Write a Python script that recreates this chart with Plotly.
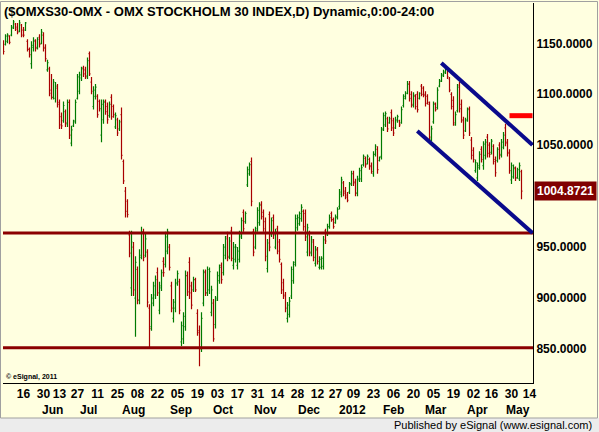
import plotly.graph_objects as go

# OMX Stockholm 30, daily bars (trading-day index), May 2011 - May 2012
bar_open = [1150, 1149, 1152, 1157, 1158, 1165, 1169, 1166, 1162, 1168, 1163, 1163, 1152, 1144, 1130, 1146, 1152, 1146, 1156, 1150,
            1158, 1146, 1124, 1125, 1104, 1097, 1096, 1106, 1092, 1078, 1074, 1083, 1071, 1092, 1052, 1069, 1073, 1096, 1103, 1116,
            1126, 1124, 1118, 1140, 1112, 1088, 1098, 1098, 1093, 1060, 1075, 1093, 1088, 1079, 1097, 1088, 1068, 1075, 1066, 1080,
            1034, 1005, 995, 962, 910, 950, 900, 928, 898, 942, 965, 942, 945, 890, 872, 895, 903, 925, 888, 910,
            936, 933, 946, 950, 912, 880, 890, 914, 916, 857, 860, 872, 922, 935, 912, 908, 918, 885, 868, 852,
            895, 926, 905, 908, 886, 895, 874, 900, 917, 932, 925, 942, 960, 941, 966, 932, 938, 932, 938, 960,
            984, 975, 1011, 1022, 1034, 965, 950, 968, 974, 992, 984, 975, 929, 982, 962, 979, 950, 968, 955, 933,
            915, 903, 880, 884, 902, 917, 935, 969, 973, 978, 985, 983, 945, 962, 944, 955, 934, 947, 930, 930,
            931, 966, 962, 970, 983, 977, 974, 979, 990, 1002, 1013, 1005, 1001, 1004, 1012, 1022, 1014, 1003, 1016, 1017,
            1031, 1037, 1032, 1036, 1030, 1022, 1041, 1046, 1035, 1039, 1066, 1070, 1076, 1072, 1082, 1074, 1067, 1074, 1074, 1072,
            1089, 1096, 1101, 1110, 1100, 1089, 1098, 1100, 1096, 1108, 1106, 1100, 1098, 1090, 1056, 1073, 1091, 1087, 1108, 1113,
            1118, 1121, 1125, 1115, 1100, 1094, 1070, 1084, 1109, 1090, 1074, 1064, 1075, 1086, 1055, 1045, 1025, 1018, 1028, 1046,
            1030, 1040, 1058, 1050, 1043, 1049, 1036, 1035, 1050, 1041, 1048, 1067, 1053, 1043, 1016, 1019, 1027, 1018, 1017, 1024]
bar_high = [1153, 1159, 1160, 1158, 1168, 1173, 1170, 1170, 1173, 1169, 1166, 1171, 1154, 1146, 1152, 1156, 1154, 1156, 1159, 1164,
            1161, 1149, 1134, 1127, 1120, 1115, 1112, 1110, 1095, 1082, 1093, 1085, 1095, 1095, 1069, 1075, 1095, 1120, 1122, 1127,
            1128, 1127, 1136, 1142, 1117, 1108, 1110, 1100, 1095, 1095, 1095, 1095, 1092, 1093, 1100, 1090, 1082, 1077, 1075, 1087,
            1036, 1009, 997, 966, 966, 955, 941, 931, 948, 970, 968, 963, 948, 894, 904, 916, 922, 930, 916, 928,
            940, 965, 968, 953, 916, 899, 919, 927, 919, 877, 886, 927, 926, 940, 916, 921, 920, 889, 873, 886,
            928, 928, 931, 930, 912, 899, 902, 926, 933, 935, 953, 961, 965, 960, 970, 955, 953, 950, 966, 979,
            987, 985, 1029, 1033, 1038, 968, 970, 989, 994, 995, 987, 979, 958, 985, 979, 982, 968, 971, 958, 935,
            919, 906, 896, 901, 931, 936, 982, 982, 985, 992, 987, 987, 973, 966, 961, 958, 951, 950, 941, 941,
            961, 968, 973, 982, 985, 979, 982, 989, 1007, 1019, 1015, 1009, 1004, 1014, 1025, 1025, 1017, 1020, 1028, 1031,
            1041, 1039, 1041, 1038, 1033, 1044, 1051, 1049, 1039, 1068, 1082, 1083, 1078, 1078, 1085, 1077, 1078, 1080, 1075, 1088,
            1100, 1103, 1113, 1113, 1103, 1102, 1100, 1103, 1102, 1110, 1108, 1103, 1100, 1093, 1069, 1093, 1092, 1107, 1115, 1121,
            1124, 1128, 1126, 1117, 1102, 1098, 1083, 1110, 1112, 1095, 1078, 1077, 1087, 1088, 1058, 1048, 1036, 1033, 1044, 1049,
            1054, 1056, 1061, 1053, 1056, 1051, 1039, 1048, 1053, 1056, 1063, 1071, 1056, 1046, 1033, 1031, 1029, 1028, 1033, 1026]
bar_low = [1139, 1148, 1150, 1149, 1157, 1164, 1162, 1159, 1161, 1156, 1156, 1162, 1142, 1136, 1125, 1142, 1142, 1144, 1146, 1149,
           1142, 1132, 1122, 1098, 1095, 1095, 1092, 1087, 1066, 1066, 1072, 1068, 1068, 1056, 1049, 1068, 1071, 1095, 1100, 1113,
           1117, 1115, 1115, 1118, 1100, 1085, 1095, 1077, 1083, 1053, 1071, 1080, 1071, 1077, 1075, 1077, 1066, 1059, 1064, 1036,
           1012, 979, 979, 940, 902, 902, 862, 894, 894, 938, 936, 940, 891, 852, 868, 892, 899, 902, 884, 907,
           921, 930, 943, 927, 886, 876, 886, 912, 884, 853, 855, 868, 902, 899, 889, 906, 906, 863, 833, 847,
           892, 902, 902, 904, 882, 857, 870, 897, 914, 914, 922, 938, 936, 938, 936, 928, 935, 928, 935, 958,
           965, 973, 1009, 1020, 990, 941, 948, 965, 971, 977, 965, 936, 925, 946, 960, 958, 948, 943, 935, 904,
           899, 886, 876, 881, 899, 914, 931, 966, 971, 975, 966, 956, 941, 941, 941, 936, 931, 933, 928, 928,
           928, 953, 961, 968, 975, 968, 973, 977, 987, 999, 1000, 997, 994, 1002, 1010, 1010, 1000, 1000, 1014, 1014,
           1029, 1028, 1031, 1026, 1022, 1019, 1039, 1022, 1034, 1036, 1064, 1068, 1063, 1071, 1064, 1059, 1066, 1072, 1068, 1071,
           1087, 1095, 1100, 1093, 1087, 1087, 1085, 1082, 1095, 1098, 1097, 1088, 1090, 1054, 1054, 1071, 1083, 1085, 1107, 1112,
           1117, 1120, 1115, 1102, 1085, 1069, 1069, 1082, 1082, 1072, 1056, 1063, 1073, 1059, 1036, 1033, 1023, 1015, 1026, 1033,
           1026, 1036, 1038, 1038, 1041, 1031, 1019, 1033, 1036, 1038, 1046, 1049, 1039, 1022, 1012, 1017, 1015, 1017, 1015, 997]
bar_close = [1142, 1157, 1158, 1151, 1166, 1171, 1164, 1161, 1170, 1158, 1158, 1170, 1144, 1139, 1148, 1153, 1145, 1154, 1149, 1161,
             1145, 1135, 1131, 1101, 1097, 1112, 1108, 1090, 1070, 1069, 1089, 1072, 1092, 1060, 1065, 1074, 1092, 1117, 1119, 1125,
             1120, 1117, 1133, 1120, 1103, 1104, 1107, 1080, 1086, 1090, 1092, 1083, 1075, 1090, 1078, 1080, 1079, 1062, 1073, 1040,
             1015, 985, 982, 944, 955, 908, 935, 898, 940, 965, 940, 958, 896, 870, 900, 912, 918, 905, 912, 925,
             925, 960, 965, 930, 890, 896, 915, 924, 888, 873, 882, 922, 906, 905, 893, 918, 908, 866, 850, 880,
             925, 905, 928, 926, 908, 860, 898, 922, 930, 918, 950, 958, 940, 956, 939, 950, 950, 946, 962, 976,
             968, 983, 1026, 1031, 995, 945, 966, 986, 991, 980, 968, 941, 954, 950, 976, 962, 965, 946, 938, 908,
             902, 890, 893, 897, 928, 933, 978, 979, 983, 989, 970, 960, 969, 945, 957, 940, 948, 936, 938, 939,
             957, 956, 970, 979, 977, 970, 980, 987, 1004, 1016, 1003, 999, 996, 1012, 1022, 1013, 1003, 1017, 1025, 1028,
             1039, 1031, 1039, 1029, 1024, 1041, 1049, 1026, 1038, 1065, 1079, 1081, 1066, 1076, 1067, 1062, 1075, 1078, 1070, 1085,
             1098, 1101, 1110, 1096, 1090, 1099, 1088, 1085, 1101, 1100, 1099, 1091, 1092, 1058, 1066, 1090, 1085, 1104, 1113, 1119,
             1122, 1126, 1117, 1104, 1088, 1072, 1080, 1107, 1086, 1075, 1060, 1074, 1085, 1062, 1040, 1036, 1033, 1030, 1041, 1036,
             1051, 1053, 1042, 1041, 1054, 1034, 1023, 1046, 1040, 1053, 1060, 1052, 1042, 1025, 1030, 1028, 1018, 1026, 1030, 1004.8721]
bar_index = list(range(len(bar_close)))

# x axis labels (day of month at bar positions) and month names
day_ticks = [10, 20, 28, 37, 47, 57, 67, 77, 87, 97, 107, 117, 127, 137, 147, 157, 166, 175, 185, 195, 205, 215, 225, 235, 244, 254, 263]
day_labels = ["16", "30", "13", "27", "11", "25", "08", "22", "05", "19", "03", "17", "31", "14",
              "28", "12", "27", "09", "23", "06", "20", "05", "19", "02", "16", "30", "14"]
month_pos = [24.5, 42.5, 65, 88.5, 109.5, 131, 152.5, 174.5, 195, 216, 237, 257]
month_labels = ["Jun", "Jul", "Aug", "Sep", "Oct", "Nov", "Dec", "2012", "Feb", "Mar", "Apr", "May"]

# 1000 sits under the last-price flag, so it is not labelled
y_ticks = [850, 900, 950, 1050, 1100, 1150]

# drawn studies: support lines, falling channel, target marker
support_levels = [963.9, 851.3]
channel_upper_x = [218.9, 264.5]
channel_upper_y = [1130.7, 1050.3]
channel_lower_x = [206.9, 264.5]
channel_lower_y = [1064.0, 963.9]
target_x = [253, 264.5]
target_y = 1079.0
last_price = 1004.8721

BG = "#FFFFE0"
GREEN = "#007A00"
RED = "#A80000"
FONT = "Liberation Sans, Arial, sans-serif"

fig = go.Figure()
fig.add_trace(go.Ohlc(x=bar_index, open=bar_open, high=bar_high, low=bar_low, close=bar_close,
                      increasing=dict(line=dict(color=GREEN, width=1.2)),
                      decreasing=dict(line=dict(color=RED, width=1.2)),
                      tickwidth=0.5, hoverinfo="skip"))

shapes = []
for lvl in support_levels:
    shapes.append(dict(type="line", xref="paper", x0=0, x1=1, yref="y", y0=lvl, y1=lvl,
                       line=dict(color="#8B0000", width=3)))
shapes.append(dict(type="line", xref="x", yref="y", x0=channel_upper_x[0], x1=channel_upper_x[1],
                   y0=channel_upper_y[0], y1=channel_upper_y[1], line=dict(color="#0A0A8C", width=4)))
shapes.append(dict(type="line", xref="x", yref="y", x0=channel_lower_x[0], x1=channel_lower_x[1],
                   y0=channel_lower_y[0], y1=channel_lower_y[1], line=dict(color="#0A0A8C", width=4)))
shapes.append(dict(type="line", xref="x", yref="y", x0=target_x[0], x1=target_x[1],
                   y0=target_y, y1=target_y, line=dict(color="#FF0000", width=5)))

# frame and bottom status strip (paper coords, plot area = 530x380 px)
px = lambda v: (v - 3) / 530
py = lambda v: (383 - v) / 380
shapes.append(dict(type="rect", xref="paper", yref="paper", x0=px(0), x1=px(599), y0=py(432), y1=py(418),
                   fillcolor="#ECECEC", line=dict(width=0), layer="below"))
shapes.append(dict(type="rect", xref="paper", yref="paper", x0=px(0.5), x1=px(597.5), y0=py(418), y1=py(1.5),
                   fillcolor="rgba(0,0,0,0)", line=dict(color="#A0A0A0", width=1)))

annotations = [
    dict(text="($OMXS30-OMX - OMX STOCKHOLM 30 INDEX,D) Dynamic,0:00-24:00", xref="paper", yref="paper",
         x=px(2), y=py(12), xanchor="left", yanchor="middle", showarrow=False,
         font=dict(family=FONT, size=13, color="black", weight="bold")),
    dict(text="© eSignal, 2011", xref="paper", yref="paper", x=px(4), y=py(377), xanchor="left",
         yanchor="middle", showarrow=False, font=dict(family=FONT, size=7, color="black", weight="bold")),
    dict(text="Published by eSignal (www.esignal.com)", xref="paper", yref="paper", x=px(594), y=py(425),
         xanchor="right", yanchor="middle", showarrow=False, font=dict(family=FONT, size=11, color="black")),
    dict(text=f"{last_price:.4f}", xref="paper", yref="y", x=1, xshift=1, y=last_price, xanchor="left",
         yanchor="middle", showarrow=False, bgcolor="#800000", borderpad=2,
         font=dict(family=FONT, size=12, color="white", weight="bold")),
]
for pos, name in zip(month_pos, month_labels):
    annotations.append(dict(text=name, xref="x", yref="paper", x=pos, y=py(410), xanchor="center",
                            yanchor="middle", showarrow=False,
                            font=dict(family=FONT, size=12, color="black", weight="bold")))

fig.update_layout(
    width=599, height=432,
    margin=dict(l=3, r=66, t=3, b=49),
    paper_bgcolor=BG, plot_bgcolor=BG,
    showlegend=False,
    shapes=shapes,
    annotations=annotations,
    xaxis=dict(range=[-0.25, 264.75], rangeslider=dict(visible=False), showgrid=False, zeroline=False,
               showline=True, linecolor="black", linewidth=1, tickmode="array",
               tickvals=day_ticks, ticktext=day_labels, ticks="",
               tickfont=dict(family=FONT, size=12, color="black", weight="bold")),
    yaxis=dict(range=[816.6, 1189.6], side="right", showgrid=False, zeroline=False,
               showline=True, linecolor="black", linewidth=1, tickmode="array",
               tickvals=y_ticks, ticktext=[f"{v:.4f}" for v in y_ticks], ticks="",
               tickfont=dict(family=FONT, size=12, color="black", weight="bold")),
)

# drop the browser's default body margin so the figure sits at the page origin
fig.write_html("out.html", config={"displayModeBar": False},
               post_script="document.body.style.margin='0';")
